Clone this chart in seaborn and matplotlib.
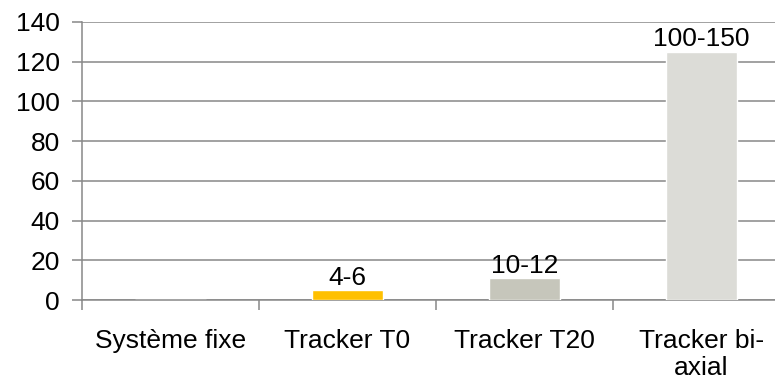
import matplotlib
matplotlib.use("Agg")
import matplotlib.pyplot as plt
import seaborn as sns
import pandas as pd
from matplotlib.ticker import FixedLocator

# Gain de production par type de montage (%)
categories = ["Système fixe", "Tracker T0", "Tracker T20", "Tracker bi-\naxial"]
values = [0, 5, 11, 125]
value_labels = ["", "4-6", "10-12", "100-150"]
bar_colors = ["#FFC000", "#FFC000", "#C6C6BB", "#DCDCD7"]
y_ticks = [0, 20, 40, 60, 80, 100, 120, 140]

sns.set_theme(style="white")
plt.rcParams["font.family"] = ["Liberation Sans", "DejaVu Sans"]

FS = 19

df = pd.DataFrame({"categorie": categories, "valeur": values})

fig = plt.figure(figsize=(7.75, 3.82), dpi=100)
ax = fig.add_axes([82 / 775, 82 / 382, 708 / 775, 278 / 382])

sns.barplot(data=df, x="categorie", y="valeur", hue="categorie",
            palette=bar_colors, width=0.4, legend=False, ax=ax,
            saturation=1, zorder=3)

grid_color = "#888888"
ax.set_ylim(0, 140)
ax.set_xlim(-0.5, len(categories) - 0.5)
ax.set_yticks(y_ticks)
ax.yaxis.grid(True, color=grid_color, linewidth=1.1, zorder=0)
ax.set_axisbelow(True)

for side in ["top", "right"]:
    ax.spines[side].set_visible(False)
for side in ["left", "bottom"]:
    ax.spines[side].set_color(grid_color)
    ax.spines[side].set_linewidth(1.1)

# category separators as minor ticks
ax.xaxis.set_minor_locator(FixedLocator([i - 0.5 for i in range(len(categories) + 1)]))
ax.tick_params(axis="x", which="major", length=0, pad=21, labelsize=FS,
               labelcolor="black")
ax.tick_params(axis="x", which="minor", bottom=True, length=7, width=1.1,
               color=grid_color)
ax.tick_params(axis="y", which="major", left=True, length=7, width=1.1,
               color=grid_color, labelsize=FS, labelcolor="black", pad=9)
for lbl in ax.get_xticklabels():
    lbl.set_verticalalignment("top")
    lbl.set_linespacing(1.15)

ax.set_xlabel("")
ax.set_ylabel("")

for i, (v, txt) in enumerate(zip(values, value_labels)):
    if txt:
        ax.annotate(txt, (i, v), xytext=(0, 4), textcoords="offset points",
                    ha="center", va="baseline", fontsize=FS, color="black",
                    zorder=4)

fig.savefig("out.png", dpi=100)
